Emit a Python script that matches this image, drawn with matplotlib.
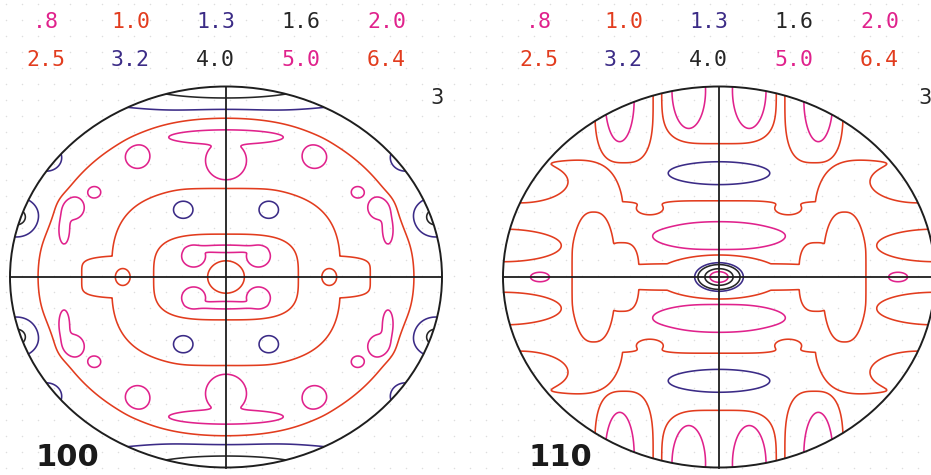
import numpy as np
import matplotlib
matplotlib.use("Agg")
import matplotlib.pyplot as plt
from matplotlib.patches import Ellipse

W, H = 931, 475

# Contour levels of the pole figures and their colours
level_values = [0.8, 1.0, 1.3, 1.6, 2.0, 2.5, 3.2, 4.0, 5.0, 6.4]
level_labels = [".8", "1.0", "1.3", "1.6", "2.0", "2.5", "3.2", "4.0", "5.0", "6.4"]
level_colors = ["#e0228c", "#e23c1e", "#3b2b86", "#262626", "#e0228c",
                "#e23c1e", "#3b2b86", "#262626", "#e0228c", "#e23c1e"]

panel_names = ["100", "110"]
panel_max_labels = ["3", "3"]
panel_drawn_levels = [[0.8, 1.0, 1.3, 1.6],
                      [0.8, 1.0, 1.3, 1.6, 4.0, 5.0]]

# Intensity fields on the unit projection disc (u right, v up), mirror symmetric.
# Plateau regions: (amplitude, edge softness, [(cu, cv, ru, rv, exponent), ...])
base_100 = 1.15
plateaus_100 = [
    (-0.30, 0.04, [(0.0, 0.0, 0.87, 0.85, 2)]),
    (+0.30, 0.04, [(0.0, 0.0, 0.53, 0.465, 3), (0.0, 0.0, 0.668, 0.115, 6)]),
    (-0.30, 0.04, [(0.0, 0.0, 0.335, 0.225, 3.5)]),
    (+0.30, 0.10, [(0.0, 0.0, 0.085, 0.085, 2)]),
]
# Peaks and dips: (cu, cv, su, sv, exponent, amplitude)
peaks_100 = [
    (0.0, 1.0, 0.68, 0.113, 2, 0.60),
    (0.970, 0.315, 0.092, 0.092, 2, 0.55),
    (0.831, 0.626, 0.071, 0.071, 2, 0.40),
    (0.0, 0.735, 0.25, 0.036, 4, -0.20),
    (0.0, 0.612, 0.085, 0.092, 3, -0.20),
    (0.41, 0.635, 0.049, 0.055, 2, -0.20),
    (0.715, 0.365, 0.050, 0.055, 2, -0.20),
    (0.750, 0.255, 0.022, 0.070, 2, -0.20),
    (0.61, 0.445, 0.0255, 0.0255, 2, -0.20),
    (0.15, 0.11, 0.047, 0.049, 2, -0.20),
    (0.0, 0.148, 0.138, 0.018, 4, -0.20),
    (0.198, 0.353, 0.0727, 0.0727, 2, 0.22),
    (0.478, 0.0, 0.048, 0.062, 2, -0.25),
]

base_110 = 1.15
plateaus_110 = [
    (-0.30, 0.03, [(0.0, 0.0, 1.2, 0.40, 4), (0.75, 0.0, 0.32, 0.62, 4)]),
    (+0.30, 0.04, [(0.0, 0.0, 0.55, 0.07, 4), (0.0, 0.0, 0.30, 0.115, 2),
                   (0.58, 0.0, 0.10, 0.34, 2.5), (0.45, 0.0, 0.08, 0.18, 3)]),
    (-0.30, 0.03, [(0.0, 1.0, 0.265, 0.30, 4), (0.44, 0.92, 0.135, 0.32, 3)]),
]
peaks_110 = [
    (0.14, 0.98, 0.066, 0.17, 2, -0.20),
    (0.46, 0.93, 0.057, 0.187, 2, -0.20),
    (0.0, 0.215, 0.263, 0.064, 2, -0.20),
    (0.83, 0.0, 0.0425, 0.0255, 2, -0.20),
    (0.0, 0.545, 0.278, 0.071, 4, 0.25),
    (1.0, 0.165, 0.293, 0.092, 2, 0.35),
    (0.92, 0.50, 0.24, 0.12, 2, 0.35),
    (0.32, 0.36, 0.10, 0.055, 2, 0.22),
    (0.0, 0.0, 0.0808, 0.0539, 5, 3.68),
    (0.0, 0.0, 0.113, 0.0754, 2, 0.35),
]

panel_fields = [(base_100, plateaus_100, peaks_100),
                (base_110, plateaus_110, peaks_110)]


def mirrored(cu, cv):
    return [(a, b) for a in sorted({cu, -cu}) for b in sorted({cv, -cv})]


def plateau(u, v, shapes, soft):
    s = np.zeros_like(u)
    for cu, cv, ru, rv, p in shapes:
        for mu, mv in mirrored(cu, cv):
            rho = (np.abs((u - mu) / ru) ** p + np.abs((v - mv) / rv) ** p) ** (1.0 / p)
            s = np.maximum(s, 0.5 * (1.0 - np.tanh((rho - 1.0) / soft)))
    return s


def peaks(u, v, table):
    f = np.zeros_like(u)
    for cu, cv, su, sv, p, amp in table:
        for mu, mv in mirrored(cu, cv):
            r2 = ((u - mu) / su) ** 2 + ((v - mv) / sv) ** 2
            f += amp * np.exp(-r2 ** (p / 2.0))
    return f


def pole_field(u, v, base, plats, pks):
    f = np.full_like(u, base)
    for amp, soft, shapes in plats:
        f += amp * plateau(u, v, shapes, soft)
    return f + peaks(u, v, pks)


fig = plt.figure(figsize=(W / 100, H / 100), dpi=100)
ax = fig.add_axes([0, 0, 1, 1])
ax.set_xlim(0, W)
ax.set_ylim(H, 0)
ax.axis("off")

# faint dotted paper
gx, gy = np.meshgrid(np.arange(6, W, 16), np.arange(4, H, 16))
ax.scatter(gx.ravel(), gy.ravel(), s=1.2, c="#dedede", linewidths=0, zorder=0)

centers_x = [226, 719]
cy, rx, ry = 277, 216, 190.5
col_offsets = [-180.5, -95.5, -10.5, 75, 160.5]
row_y = [22, 60]
max_label_dx = [210.5, 206.0]
color_of = dict(zip(level_values, level_colors))

grid = np.linspace(-1.03, 1.03, 720)
U, V = np.meshgrid(grid, grid)

for k, cx in enumerate(centers_x):
    base, plats, pks = panel_fields[k]
    F = pole_field(U, V, base, plats, pks)
    X = cx + U * rx
    Y = cy - V * ry
    lv = panel_drawn_levels[k]
    cs = ax.contour(X, Y, F, levels=lv, colors=[color_of[l] for l in lv],
                    linewidths=1.15, zorder=2)
    clip = Ellipse((cx, cy), 2 * rx, 2 * ry, transform=ax.transData)
    cs.set_clip_path(clip)

    ax.plot([cx - rx, cx + rx], [cy, cy], color="#1e1e1e", lw=1.3, zorder=3)
    ax.plot([cx, cx], [cy - ry, cy + ry], color="#1e1e1e", lw=1.3, zorder=3)
    ax.add_patch(Ellipse((cx, cy), 2 * rx, 2 * ry, fill=False,
                         edgecolor="#1e1e1e", lw=1.4, zorder=3))

    for i, (lab, col) in enumerate(zip(level_labels, level_colors)):
        r, c = divmod(i, 5)
        ax.text(cx + col_offsets[c], row_y[r], lab, color=col, fontsize=15.5,
                family="DejaVu Sans Mono", ha="center", va="center")
    ax.text(cx + max_label_dx[k], 98, panel_max_labels[k], color="#262626",
            fontsize=15, family="DejaVu Sans", ha="center", va="center")
    ax.text(cx - 158.5, 458, panel_names[k], color="#1a1a1a", fontsize=22,
            family="DejaVu Sans", weight="bold", ha="center", va="center")

fig.savefig("out.png", dpi=100, facecolor="white")
